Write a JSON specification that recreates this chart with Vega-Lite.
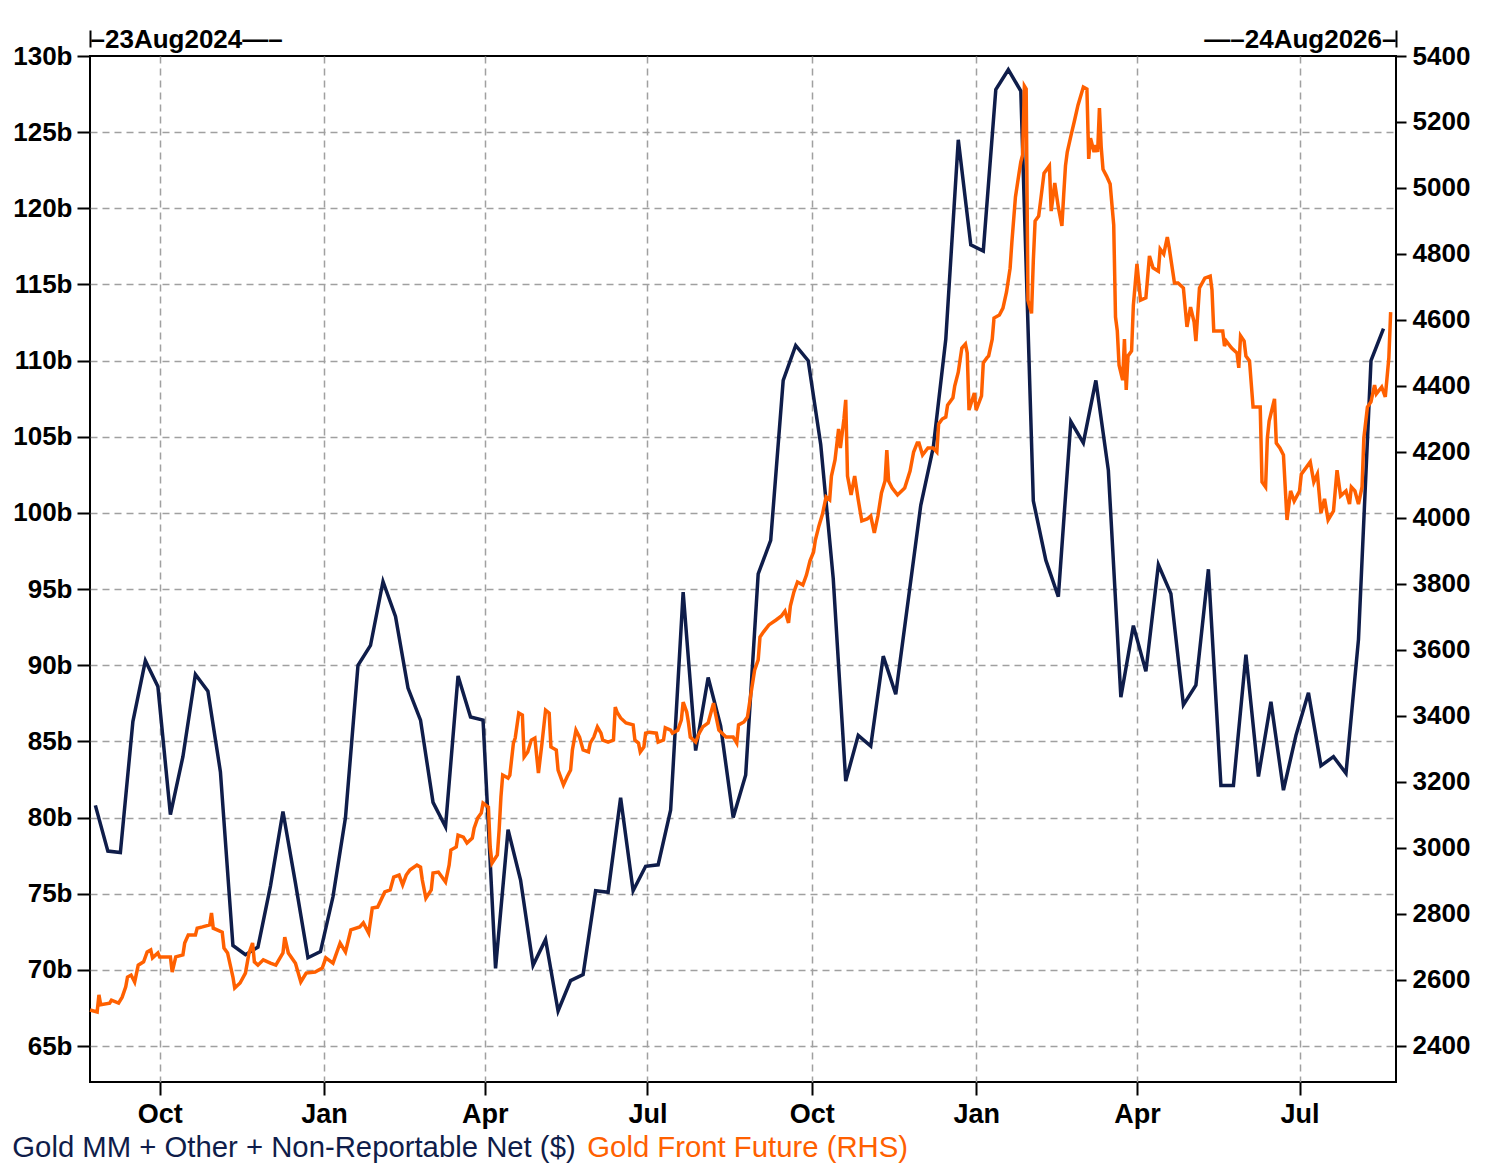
{
  "$schema": "https://vega.github.io/schema/vega-lite/v6.json",
  "width": 1306,
  "height": 1026,
  "autosize": {"type": "none"},
  "padding": {"left": 90, "top": 56, "right": 91, "bottom": 93},
  "background": "white",
  "config": {
    "view": {"stroke": "black", "strokeWidth": 2},
    "axis": {
      "labelFont": "Liberation Sans",
      "labelFontSize": 26,
      "labelFontWeight": "bold",
      "labelColor": "black",
      "labelLimit": 1000,
      "tickColor": "black",
      "tickWidth": 2,
      "domain": false,
      "title": null,
      "gridColor": "#a0a0a0",
      "gridDash": [7, 5],
      "gridWidth": 1.5
    }
  },
  "layer": [
    {
      "data": {
        "format": {"parse": {"date": "date:'%Y-%m-%d'"}},
        "values": [
          {"date": "2024-08-26", "value": 80.8}, {"date": "2024-09-02", "value": 77.8}, {"date": "2024-09-09", "value": 77.7},
          {"date": "2024-09-16", "value": 86.3}, {"date": "2024-09-23", "value": 90.3}, {"date": "2024-09-30", "value": 88.6},
          {"date": "2024-10-07", "value": 80.2}, {"date": "2024-10-14", "value": 84.0}, {"date": "2024-10-21", "value": 89.4},
          {"date": "2024-10-28", "value": 88.3}, {"date": "2024-11-04", "value": 83.0}, {"date": "2024-11-11", "value": 71.6},
          {"date": "2024-11-18", "value": 71.0}, {"date": "2024-11-25", "value": 71.5}, {"date": "2024-12-02", "value": 75.5},
          {"date": "2024-12-09", "value": 80.4}, {"date": "2024-12-16", "value": 75.7}, {"date": "2024-12-23", "value": 70.8},
          {"date": "2024-12-30", "value": 71.2}, {"date": "2025-01-06", "value": 74.8}, {"date": "2025-01-13", "value": 80.0},
          {"date": "2025-01-20", "value": 90.0}, {"date": "2025-01-27", "value": 91.3}, {"date": "2025-02-03", "value": 95.5},
          {"date": "2025-02-10", "value": 93.2}, {"date": "2025-02-17", "value": 88.5}, {"date": "2025-02-24", "value": 86.4},
          {"date": "2025-03-03", "value": 81.0}, {"date": "2025-03-10", "value": 79.4}, {"date": "2025-03-17", "value": 89.3},
          {"date": "2025-03-24", "value": 86.6}, {"date": "2025-03-31", "value": 86.4}, {"date": "2025-04-07", "value": 70.1},
          {"date": "2025-04-14", "value": 79.2}, {"date": "2025-04-21", "value": 75.9}, {"date": "2025-04-28", "value": 70.3},
          {"date": "2025-05-05", "value": 72.0}, {"date": "2025-05-12", "value": 67.3}, {"date": "2025-05-19", "value": 69.3},
          {"date": "2025-05-26", "value": 69.7}, {"date": "2025-06-02", "value": 75.2}, {"date": "2025-06-09", "value": 75.1},
          {"date": "2025-06-16", "value": 81.3}, {"date": "2025-06-23", "value": 75.2}, {"date": "2025-06-30", "value": 76.8},
          {"date": "2025-07-07", "value": 76.9}, {"date": "2025-07-14", "value": 80.5}, {"date": "2025-07-21", "value": 94.8},
          {"date": "2025-07-28", "value": 84.4}, {"date": "2025-08-04", "value": 89.2}, {"date": "2025-08-11", "value": 86.0},
          {"date": "2025-08-18", "value": 80.0}, {"date": "2025-08-25", "value": 82.8}, {"date": "2025-09-01", "value": 96.0},
          {"date": "2025-09-08", "value": 98.2}, {"date": "2025-09-15", "value": 108.7}, {"date": "2025-09-22", "value": 111.0},
          {"date": "2025-09-29", "value": 110.0}, {"date": "2025-10-06", "value": 104.5}, {"date": "2025-10-13", "value": 95.7},
          {"date": "2025-10-20", "value": 82.4}, {"date": "2025-10-27", "value": 85.4}, {"date": "2025-11-03", "value": 84.7},
          {"date": "2025-11-10", "value": 90.6}, {"date": "2025-11-17", "value": 88.1}, {"date": "2025-11-24", "value": 94.3},
          {"date": "2025-12-01", "value": 100.5}, {"date": "2025-12-08", "value": 104.3}, {"date": "2025-12-15", "value": 111.4},
          {"date": "2025-12-22", "value": 124.5}, {"date": "2025-12-29", "value": 117.6}, {"date": "2026-01-05", "value": 117.2},
          {"date": "2026-01-12", "value": 127.8}, {"date": "2026-01-19", "value": 129.1}, {"date": "2026-01-26", "value": 127.7},
          {"date": "2026-02-02", "value": 100.8}, {"date": "2026-02-09", "value": 96.9}, {"date": "2026-02-16", "value": 94.5},
          {"date": "2026-02-23", "value": 106.0}, {"date": "2026-03-02", "value": 104.6}, {"date": "2026-03-09", "value": 108.7},
          {"date": "2026-03-16", "value": 102.8}, {"date": "2026-03-23", "value": 87.9}, {"date": "2026-03-30", "value": 92.6},
          {"date": "2026-04-06", "value": 89.6}, {"date": "2026-04-13", "value": 96.6}, {"date": "2026-04-20", "value": 94.7},
          {"date": "2026-04-27", "value": 87.4}, {"date": "2026-05-04", "value": 88.7}, {"date": "2026-05-11", "value": 96.3},
          {"date": "2026-05-18", "value": 82.1}, {"date": "2026-05-25", "value": 82.1}, {"date": "2026-06-01", "value": 90.7},
          {"date": "2026-06-08", "value": 82.7}, {"date": "2026-06-15", "value": 87.6}, {"date": "2026-06-22", "value": 81.8},
          {"date": "2026-06-29", "value": 85.4}, {"date": "2026-07-06", "value": 88.2}, {"date": "2026-07-13", "value": 83.4},
          {"date": "2026-07-20", "value": 84.0}, {"date": "2026-07-27", "value": 82.9}, {"date": "2026-08-03", "value": 91.7},
          {"date": "2026-08-10", "value": 110.0}, {"date": "2026-08-17", "value": 112.1}
        ]
      },
      "mark": {"type": "line", "strokeWidth": 3.5},
      "encoding": {
        "x": {
          "field": "date",
          "type": "temporal",
          "scale": {"domain": [{"year": 2024, "month": 8, "date": 23}, {"year": 2026, "month": 8, "date": 24}]},
          "axis": {
            "orient": "bottom",
            "values": [
              {"year": 2024, "month": 10, "date": 1}, {"year": 2025, "month": 1, "date": 1}, {"year": 2025, "month": 4, "date": 1},
              {"year": 2025, "month": 7, "date": 1}, {"year": 2025, "month": 10, "date": 1}, {"year": 2026, "month": 1, "date": 1},
              {"year": 2026, "month": 4, "date": 1}, {"year": 2026, "month": 7, "date": 1}
            ],
            "format": "%b",
            "labelFontSize": 27,
            "tickSize": 13,
            "labelPadding": 6,
            "labelFlush": false,
            "labelOverlap": false,
            "grid": true
          }
        },
        "y": {
          "field": "value",
          "type": "quantitative",
          "scale": {"domain": [62.64, 130], "nice": false, "zero": false},
          "axis": {
            "orient": "left",
            "values": [65, 70, 75, 80, 85, 90, 95, 100, 105, 110, 115, 120, 125, 130],
            "labelExpr": "datum.value + 'b'",
            "tickSize": 13,
            "labelPadding": 5,
            "grid": true,
            "gridOpacity": {"condition": {"test": "datum.value == 130", "value": 0}, "value": 1}
          }
        },
        "color": {
          "datum": "Gold MM + Other + Non-Reportable Net ($)",
          "scale": {
            "domain": ["Gold MM + Other + Non-Reportable Net ($)", "Gold Front Future (RHS)"],
            "range": ["#0f1d4a", "#ff6000"]
          },
          "legend": {
            "orient": "none",
            "legendX": -89,
            "legendY": 1077,
            "direction": "horizontal",
            "title": null,
            "symbolSize": 0,
            "symbolStrokeWidth": 0,
            "symbolOpacity": 0,
            "labelFont": "Liberation Sans",
            "labelFontSize": 29.3,
            "labelLimit": 2000,
            "labelOffset": -18,
            "columnPadding": 0,
            "padding": 0,
            "encode": {
              "labels": {
                "update": {
                  "fill": {"signal": "datum.label == 'Gold Front Future (RHS)' ? '#ff6000' : '#0f1d4a'"}
                }
              }
            }
          }
        }
      }
    },
    {
      "data": {
        "format": {"parse": {"date": "date:'%Y-%m-%d'"}},
        "values": [
          {"date": "2024-08-23", "price": 2509}, {"date": "2024-08-27", "price": 2503}, {"date": "2024-08-28", "price": 2555},
          {"date": "2024-08-29", "price": 2525}, {"date": "2024-09-03", "price": 2530}, {"date": "2024-09-04", "price": 2539},
          {"date": "2024-09-08", "price": 2530}, {"date": "2024-09-10", "price": 2548}, {"date": "2024-09-12", "price": 2579},
          {"date": "2024-09-13", "price": 2609}, {"date": "2024-09-15", "price": 2615}, {"date": "2024-09-17", "price": 2594},
          {"date": "2024-09-19", "price": 2645}, {"date": "2024-09-22", "price": 2655}, {"date": "2024-09-24", "price": 2685},
          {"date": "2024-09-26", "price": 2691}, {"date": "2024-09-27", "price": 2667}, {"date": "2024-09-30", "price": 2682},
          {"date": "2024-10-01", "price": 2670}, {"date": "2024-10-07", "price": 2670}, {"date": "2024-10-08", "price": 2624},
          {"date": "2024-10-10", "price": 2670}, {"date": "2024-10-14", "price": 2676}, {"date": "2024-10-15", "price": 2712},
          {"date": "2024-10-17", "price": 2736}, {"date": "2024-10-21", "price": 2736}, {"date": "2024-10-22", "price": 2757},
          {"date": "2024-10-25", "price": 2761}, {"date": "2024-10-29", "price": 2767}, {"date": "2024-10-30", "price": 2803},
          {"date": "2024-10-31", "price": 2757}, {"date": "2024-11-05", "price": 2745}, {"date": "2024-11-06", "price": 2697},
          {"date": "2024-11-08", "price": 2682}, {"date": "2024-11-11", "price": 2609}, {"date": "2024-11-12", "price": 2576},
          {"date": "2024-11-15", "price": 2591}, {"date": "2024-11-18", "price": 2621}, {"date": "2024-11-20", "price": 2682},
          {"date": "2024-11-22", "price": 2712}, {"date": "2024-11-23", "price": 2655}, {"date": "2024-11-25", "price": 2645},
          {"date": "2024-11-28", "price": 2661}, {"date": "2024-12-02", "price": 2651}, {"date": "2024-12-05", "price": 2645},
          {"date": "2024-12-09", "price": 2682}, {"date": "2024-12-10", "price": 2730}, {"date": "2024-12-12", "price": 2682},
          {"date": "2024-12-16", "price": 2651}, {"date": "2024-12-19", "price": 2594}, {"date": "2024-12-22", "price": 2621},
          {"date": "2024-12-27", "price": 2624}, {"date": "2024-12-31", "price": 2636}, {"date": "2025-01-02", "price": 2667},
          {"date": "2025-01-06", "price": 2651}, {"date": "2025-01-10", "price": 2712}, {"date": "2025-01-13", "price": 2685},
          {"date": "2025-01-16", "price": 2752}, {"date": "2025-01-21", "price": 2761}, {"date": "2025-01-23", "price": 2773},
          {"date": "2025-01-26", "price": 2742}, {"date": "2025-01-28", "price": 2818}, {"date": "2025-01-31", "price": 2821},
          {"date": "2025-02-04", "price": 2867}, {"date": "2025-02-07", "price": 2873}, {"date": "2025-02-09", "price": 2912},
          {"date": "2025-02-12", "price": 2918}, {"date": "2025-02-14", "price": 2888}, {"date": "2025-02-16", "price": 2918},
          {"date": "2025-02-18", "price": 2933}, {"date": "2025-02-22", "price": 2948}, {"date": "2025-02-24", "price": 2942},
          {"date": "2025-02-25", "price": 2903}, {"date": "2025-02-27", "price": 2848}, {"date": "2025-03-02", "price": 2873},
          {"date": "2025-03-03", "price": 2924}, {"date": "2025-03-06", "price": 2927}, {"date": "2025-03-08", "price": 2912},
          {"date": "2025-03-10", "price": 2897}, {"date": "2025-03-12", "price": 2948}, {"date": "2025-03-13", "price": 2994},
          {"date": "2025-03-16", "price": 3003}, {"date": "2025-03-17", "price": 3039}, {"date": "2025-03-20", "price": 3033},
          {"date": "2025-03-22", "price": 3015}, {"date": "2025-03-25", "price": 3030}, {"date": "2025-03-26", "price": 3060},
          {"date": "2025-03-28", "price": 3091}, {"date": "2025-03-30", "price": 3106}, {"date": "2025-03-31", "price": 3136},
          {"date": "2025-04-03", "price": 3124}, {"date": "2025-04-04", "price": 3003}, {"date": "2025-04-05", "price": 2954},
          {"date": "2025-04-08", "price": 2979}, {"date": "2025-04-09", "price": 3054}, {"date": "2025-04-10", "price": 3154},
          {"date": "2025-04-11", "price": 3221}, {"date": "2025-04-14", "price": 3212}, {"date": "2025-04-15", "price": 3221},
          {"date": "2025-04-17", "price": 3318}, {"date": "2025-04-18", "price": 3333}, {"date": "2025-04-20", "price": 3409},
          {"date": "2025-04-22", "price": 3403}, {"date": "2025-04-23", "price": 3276}, {"date": "2025-04-25", "price": 3291},
          {"date": "2025-04-27", "price": 3327}, {"date": "2025-04-29", "price": 3333}, {"date": "2025-05-01", "price": 3227},
          {"date": "2025-05-03", "price": 3318}, {"date": "2025-05-05", "price": 3418}, {"date": "2025-05-07", "price": 3409},
          {"date": "2025-05-08", "price": 3306}, {"date": "2025-05-11", "price": 3297}, {"date": "2025-05-12", "price": 3236},
          {"date": "2025-05-15", "price": 3191}, {"date": "2025-05-17", "price": 3215}, {"date": "2025-05-19", "price": 3236},
          {"date": "2025-05-20", "price": 3297}, {"date": "2025-05-22", "price": 3357}, {"date": "2025-05-24", "price": 3336},
          {"date": "2025-05-26", "price": 3297}, {"date": "2025-05-29", "price": 3291}, {"date": "2025-05-30", "price": 3318},
          {"date": "2025-06-01", "price": 3336}, {"date": "2025-06-03", "price": 3367}, {"date": "2025-06-05", "price": 3348},
          {"date": "2025-06-06", "price": 3327}, {"date": "2025-06-09", "price": 3321}, {"date": "2025-06-12", "price": 3327},
          {"date": "2025-06-13", "price": 3427}, {"date": "2025-06-14", "price": 3412}, {"date": "2025-06-16", "price": 3394},
          {"date": "2025-06-19", "price": 3379}, {"date": "2025-06-23", "price": 3373}, {"date": "2025-06-24", "price": 3327},
          {"date": "2025-06-26", "price": 3318}, {"date": "2025-06-27", "price": 3291}, {"date": "2025-06-29", "price": 3306},
          {"date": "2025-06-30", "price": 3348}, {"date": "2025-07-02", "price": 3351}, {"date": "2025-07-06", "price": 3348},
          {"date": "2025-07-07", "price": 3321}, {"date": "2025-07-10", "price": 3327}, {"date": "2025-07-11", "price": 3364},
          {"date": "2025-07-14", "price": 3357}, {"date": "2025-07-15", "price": 3348}, {"date": "2025-07-18", "price": 3357},
          {"date": "2025-07-20", "price": 3388}, {"date": "2025-07-21", "price": 3442}, {"date": "2025-07-23", "price": 3412},
          {"date": "2025-07-24", "price": 3379}, {"date": "2025-07-25", "price": 3336}, {"date": "2025-07-28", "price": 3321},
          {"date": "2025-07-30", "price": 3348}, {"date": "2025-08-01", "price": 3367}, {"date": "2025-08-04", "price": 3379},
          {"date": "2025-08-07", "price": 3439}, {"date": "2025-08-08", "price": 3409}, {"date": "2025-08-10", "price": 3357},
          {"date": "2025-08-14", "price": 3336}, {"date": "2025-08-18", "price": 3336}, {"date": "2025-08-20", "price": 3318},
          {"date": "2025-08-21", "price": 3373}, {"date": "2025-08-24", "price": 3382}, {"date": "2025-08-26", "price": 3397},
          {"date": "2025-08-28", "price": 3470}, {"date": "2025-08-30", "price": 3539}, {"date": "2025-09-01", "price": 3570},
          {"date": "2025-09-02", "price": 3639}, {"date": "2025-09-04", "price": 3655}, {"date": "2025-09-07", "price": 3676},
          {"date": "2025-09-11", "price": 3691}, {"date": "2025-09-14", "price": 3703}, {"date": "2025-09-16", "price": 3718},
          {"date": "2025-09-18", "price": 3682}, {"date": "2025-09-19", "price": 3733}, {"date": "2025-09-21", "price": 3776},
          {"date": "2025-09-23", "price": 3806}, {"date": "2025-09-26", "price": 3797}, {"date": "2025-09-28", "price": 3827},
          {"date": "2025-09-30", "price": 3870}, {"date": "2025-10-02", "price": 3897}, {"date": "2025-10-03", "price": 3933},
          {"date": "2025-10-05", "price": 3976}, {"date": "2025-10-07", "price": 4012}, {"date": "2025-10-09", "price": 4064},
          {"date": "2025-10-11", "price": 4055}, {"date": "2025-10-12", "price": 4127}, {"date": "2025-10-14", "price": 4176},
          {"date": "2025-10-16", "price": 4270}, {"date": "2025-10-17", "price": 4212}, {"date": "2025-10-19", "price": 4300},
          {"date": "2025-10-20", "price": 4358}, {"date": "2025-10-21", "price": 4127}, {"date": "2025-10-23", "price": 4070},
          {"date": "2025-10-25", "price": 4127}, {"date": "2025-10-27", "price": 4055}, {"date": "2025-10-29", "price": 3991},
          {"date": "2025-11-01", "price": 3997}, {"date": "2025-11-03", "price": 4006}, {"date": "2025-11-05", "price": 3955},
          {"date": "2025-11-07", "price": 4006}, {"date": "2025-11-09", "price": 4076}, {"date": "2025-11-11", "price": 4112},
          {"date": "2025-11-12", "price": 4206}, {"date": "2025-11-13", "price": 4112}, {"date": "2025-11-15", "price": 4091},
          {"date": "2025-11-18", "price": 4070}, {"date": "2025-11-22", "price": 4091}, {"date": "2025-11-25", "price": 4142},
          {"date": "2025-11-27", "price": 4200}, {"date": "2025-11-29", "price": 4227}, {"date": "2025-11-30", "price": 4227},
          {"date": "2025-12-02", "price": 4191}, {"date": "2025-12-05", "price": 4212}, {"date": "2025-12-08", "price": 4212},
          {"date": "2025-12-10", "price": 4200}, {"date": "2025-12-11", "price": 4285}, {"date": "2025-12-13", "price": 4300},
          {"date": "2025-12-15", "price": 4306}, {"date": "2025-12-16", "price": 4342}, {"date": "2025-12-19", "price": 4364},
          {"date": "2025-12-20", "price": 4400}, {"date": "2025-12-22", "price": 4442}, {"date": "2025-12-23", "price": 4479},
          {"date": "2025-12-24", "price": 4515}, {"date": "2025-12-26", "price": 4527}, {"date": "2025-12-27", "price": 4500},
          {"date": "2025-12-28", "price": 4327}, {"date": "2025-12-31", "price": 4379}, {"date": "2026-01-01", "price": 4327},
          {"date": "2026-01-04", "price": 4370}, {"date": "2026-01-05", "price": 4470}, {"date": "2026-01-07", "price": 4485},
          {"date": "2026-01-08", "price": 4491}, {"date": "2026-01-10", "price": 4542}, {"date": "2026-01-11", "price": 4606},
          {"date": "2026-01-14", "price": 4615}, {"date": "2026-01-16", "price": 4636}, {"date": "2026-01-18", "price": 4685},
          {"date": "2026-01-20", "price": 4757}, {"date": "2026-01-21", "price": 4836}, {"date": "2026-01-23", "price": 4973},
          {"date": "2026-01-25", "price": 5045}, {"date": "2026-01-26", "price": 5079}, {"date": "2026-01-27", "price": 5100},
          {"date": "2026-01-28", "price": 5309}, {"date": "2026-01-29", "price": 5300}, {"date": "2026-01-30", "price": 4660},
          {"date": "2026-02-01", "price": 4620}, {"date": "2026-02-02", "price": 4780}, {"date": "2026-02-03", "price": 4900},
          {"date": "2026-02-05", "price": 4915}, {"date": "2026-02-06", "price": 4958}, {"date": "2026-02-08", "price": 5045},
          {"date": "2026-02-11", "price": 5067}, {"date": "2026-02-12", "price": 4930}, {"date": "2026-02-14", "price": 5015},
          {"date": "2026-02-16", "price": 4942}, {"date": "2026-02-18", "price": 4885}, {"date": "2026-02-19", "price": 4979},
          {"date": "2026-02-20", "price": 5067}, {"date": "2026-02-21", "price": 5109}, {"date": "2026-02-23", "price": 5157},
          {"date": "2026-02-25", "price": 5203}, {"date": "2026-02-27", "price": 5251}, {"date": "2026-03-02", "price": 5306},
          {"date": "2026-03-04", "price": 5300}, {"date": "2026-03-05", "price": 5088}, {"date": "2026-03-06", "price": 5151},
          {"date": "2026-03-08", "price": 5109}, {"date": "2026-03-09", "price": 5130}, {"date": "2026-03-10", "price": 5109},
          {"date": "2026-03-11", "price": 5242}, {"date": "2026-03-12", "price": 5124}, {"date": "2026-03-13", "price": 5057},
          {"date": "2026-03-15", "price": 5036}, {"date": "2026-03-17", "price": 5012}, {"date": "2026-03-19", "price": 4888},
          {"date": "2026-03-20", "price": 4609}, {"date": "2026-03-21", "price": 4567}, {"date": "2026-03-22", "price": 4463},
          {"date": "2026-03-24", "price": 4418}, {"date": "2026-03-25", "price": 4542}, {"date": "2026-03-26", "price": 4388},
          {"date": "2026-03-27", "price": 4491}, {"date": "2026-03-29", "price": 4506}, {"date": "2026-03-30", "price": 4645},
          {"date": "2026-04-01", "price": 4770}, {"date": "2026-04-03", "price": 4660}, {"date": "2026-04-06", "price": 4667},
          {"date": "2026-04-08", "price": 4794}, {"date": "2026-04-10", "price": 4758}, {"date": "2026-04-13", "price": 4748},
          {"date": "2026-04-14", "price": 4815}, {"date": "2026-04-16", "price": 4800}, {"date": "2026-04-18", "price": 4851},
          {"date": "2026-04-19", "price": 4821}, {"date": "2026-04-22", "price": 4712}, {"date": "2026-04-24", "price": 4712},
          {"date": "2026-04-27", "price": 4697}, {"date": "2026-04-29", "price": 4579}, {"date": "2026-05-01", "price": 4639},
          {"date": "2026-05-03", "price": 4594}, {"date": "2026-05-04", "price": 4536}, {"date": "2026-05-06", "price": 4697},
          {"date": "2026-05-09", "price": 4727}, {"date": "2026-05-12", "price": 4733}, {"date": "2026-05-13", "price": 4691},
          {"date": "2026-05-14", "price": 4567}, {"date": "2026-05-19", "price": 4567}, {"date": "2026-05-20", "price": 4521},
          {"date": "2026-05-21", "price": 4536}, {"date": "2026-05-24", "price": 4515}, {"date": "2026-05-27", "price": 4500},
          {"date": "2026-05-28", "price": 4455}, {"date": "2026-05-29", "price": 4552}, {"date": "2026-05-31", "price": 4536},
          {"date": "2026-06-01", "price": 4491}, {"date": "2026-06-03", "price": 4476}, {"date": "2026-06-05", "price": 4336},
          {"date": "2026-06-09", "price": 4336}, {"date": "2026-06-10", "price": 4109}, {"date": "2026-06-12", "price": 4094},
          {"date": "2026-06-13", "price": 4242}, {"date": "2026-06-14", "price": 4294}, {"date": "2026-06-17", "price": 4361},
          {"date": "2026-06-18", "price": 4227}, {"date": "2026-06-20", "price": 4212}, {"date": "2026-06-22", "price": 4191},
          {"date": "2026-06-24", "price": 3994}, {"date": "2026-06-26", "price": 4082}, {"date": "2026-06-28", "price": 4051},
          {"date": "2026-07-01", "price": 4082}, {"date": "2026-07-02", "price": 4133}, {"date": "2026-07-05", "price": 4155},
          {"date": "2026-07-07", "price": 4170}, {"date": "2026-07-09", "price": 4109}, {"date": "2026-07-11", "price": 4133},
          {"date": "2026-07-13", "price": 4015}, {"date": "2026-07-15", "price": 4058}, {"date": "2026-07-17", "price": 3994},
          {"date": "2026-07-20", "price": 4021}, {"date": "2026-07-22", "price": 4145}, {"date": "2026-07-24", "price": 4067},
          {"date": "2026-07-27", "price": 4082}, {"date": "2026-07-29", "price": 4042}, {"date": "2026-07-30", "price": 4094},
          {"date": "2026-08-01", "price": 4082}, {"date": "2026-08-03", "price": 4042}, {"date": "2026-08-05", "price": 4094},
          {"date": "2026-08-06", "price": 4242}, {"date": "2026-08-08", "price": 4336}, {"date": "2026-08-10", "price": 4352},
          {"date": "2026-08-12", "price": 4403}, {"date": "2026-08-13", "price": 4376}, {"date": "2026-08-16", "price": 4397},
          {"date": "2026-08-18", "price": 4367}, {"date": "2026-08-20", "price": 4485}, {"date": "2026-08-21", "price": 4624}
        ]
      },
      "mark": {"type": "line", "strokeWidth": 3.5},
      "encoding": {
        "x": {
          "field": "date",
          "type": "temporal",
          "scale": {"domain": [{"year": 2024, "month": 8, "date": 23}, {"year": 2026, "month": 8, "date": 24}]},
          "axis": {
            "orient": "top",
            "values": [{"year": 2024, "month": 8, "date": 23}, {"year": 2026, "month": 8, "date": 24}],
            "labelExpr": "year(datum.value) < 2025 ? '–' + timeFormat(datum.value, '%d%b%Y') + '—–' : '—–' + timeFormat(datum.value, '%d%b%Y') + '–'",
            "offset": 9,
            "tickSize": 17,
            "labelPadding": -17,
            "labelBaseline": "alphabetic",
            "labelFlush": true,
            "labelOverlap": false,
            "labelLimit": 1000,
            "grid": false
          }
        },
        "y": {
          "field": "price",
          "type": "quantitative",
          "scale": {"domain": [2290.9, 5400], "nice": false, "zero": false},
          "axis": {
            "orient": "right",
            "values": [2400, 2600, 2800, 3000, 3200, 3400, 3600, 3800, 4000, 4200, 4400, 4600, 4800, 5000, 5200, 5400],
            "format": "d",
            "tickSize": 10,
            "labelPadding": 6,
            "grid": false
          }
        },
        "color": {
          "datum": "Gold Front Future (RHS)",
          "scale": {
            "domain": ["Gold MM + Other + Non-Reportable Net ($)", "Gold Front Future (RHS)"],
            "range": ["#0f1d4a", "#ff6000"]
          }
        }
      }
    }
  ],
  "resolve": {"scale": {"y": "independent"}, "axis": {"x": "independent"}}
}
